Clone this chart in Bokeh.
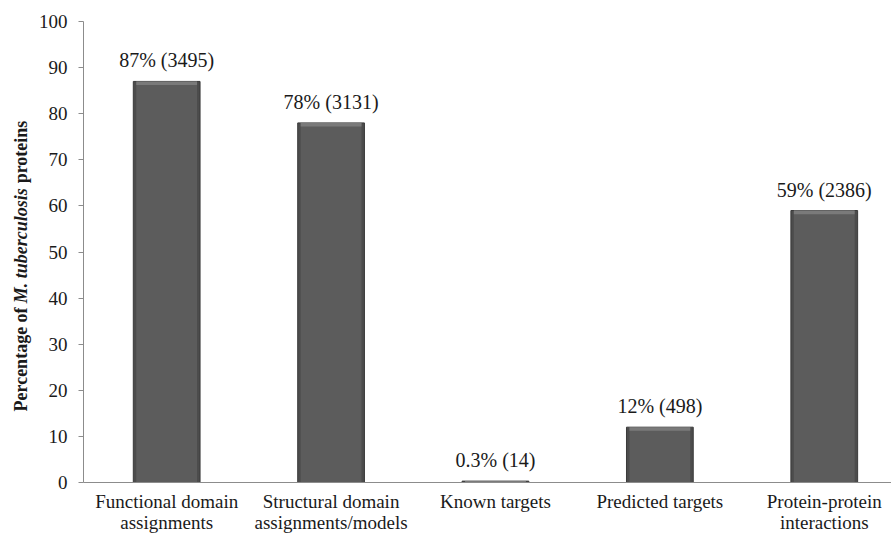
import math
from bokeh.plotting import figure
from bokeh.layouts import row
from bokeh.models import FixedTicker, Range1d, ColumnDataSource
from bokeh.core.properties import value
from bokeh.embed import file_html
from bokeh.resources import INLINE

categories = ["Functional domain\nassignments", "Structural domain\nassignments/models",
              "Known targets", "Predicted targets", "Protein-protein\ninteractions"]
percentages = [87, 78, 0.3, 12, 59]
bar_labels = ["87% (3495)", "78% (3131)", "0.3% (14)", "12% (498)", "59% (2386)"]
y_ticks = list(range(0, 101, 10))

FONT = "Times New Roman"
FS = "19px"
TXT = "#1a1a1a"
xs = [i + 0.5 for i in range(len(categories))]

p = figure(width=856, height=535, output_backend="svg", toolbar_location=None,
           x_range=Range1d(-0.006, 4.909), y_range=Range1d(0, 100),
           min_border_left=45, min_border_right=0, min_border_top=21, min_border_bottom=53)
p.outline_line_color = None
p.xgrid.visible = False
p.ygrid.visible = False

src = ColumnDataSource(dict(x=xs, top=percentages, lab=bar_labels))

p.vbar(x="x", top="top", bottom=0, width=0.406, source=src,
       fill_color="#4c4c4c", line_color="#3a3a3a", line_width=1)
p.vbar(x="x", top="top", bottom=0, width=0.37, source=src,
       fill_color="#5c5c5c", line_color=None)
bots = [max(v - 0.8, 0) for v in percentages]
p.quad(left=[x - 0.185 for x in xs], right=[x + 0.185 for x in xs], top=percentages, bottom=bots,
       fill_color="#7a7a7a", line_color=None)

p.text(x="x", y="top", text="lab", source=src, text_font=value(FONT), text_font_size="20px",
       text_align="center", text_baseline="middle", y_offset=-21, text_color=TXT)

p.yaxis.ticker = FixedTicker(ticks=y_ticks)
p.yaxis.major_label_text_font = FONT
p.yaxis.major_label_text_font_size = FS
p.yaxis.major_label_text_color = TXT
p.yaxis.axis_line_color = "#8c8c8c"
p.yaxis.major_tick_line_color = "#8c8c8c"
p.yaxis.major_tick_out = 5
p.yaxis.major_tick_in = 0
p.yaxis.minor_tick_line_color = None
p.yaxis.major_label_standoff = 11

p.xaxis.ticker = FixedTicker(ticks=xs)
p.xaxis.major_label_overrides = {x: c for x, c in zip(xs, categories)}
p.xaxis.major_label_text_font = FONT
p.xaxis.major_label_text_font_size = FS
p.xaxis.major_label_text_line_height = 1.0
p.xaxis.major_label_text_color = TXT
p.xaxis.axis_line_color = "#8c8c8c"
p.xaxis.major_tick_line_color = None
p.xaxis.minor_tick_line_color = None
p.xaxis.major_label_standoff = 2

# y-axis title in a narrow side figure sharing the y range
title_parts = ["Percentage of", "M. tuberculosis", "proteins"]
title_styles = ["bold", "bold italic", "bold"]
title_starts = [15.4, 38.9, 64.9]

t = figure(width=35, height=535, output_backend="svg", toolbar_location=None,
           x_range=Range1d(0, 35), y_range=p.y_range,
           min_border_left=0, min_border_right=0, min_border_top=21, min_border_bottom=53)
t.axis.visible = False
t.grid.visible = False
t.outline_line_color = None
tsrc = ColumnDataSource(dict(x=[20] * 3, y=title_starts, txt=title_parts, st=title_styles))
t.text(x="x", y="y", text="txt", source=tsrc, angle=math.pi / 2, text_font=value(FONT),
       text_font_style="st", text_font_size="18px", text_align="left", text_baseline="middle",
       text_color=TXT)

layout = row(t, p, spacing=0)
open("out.html", "w").write(file_html(layout, INLINE))
